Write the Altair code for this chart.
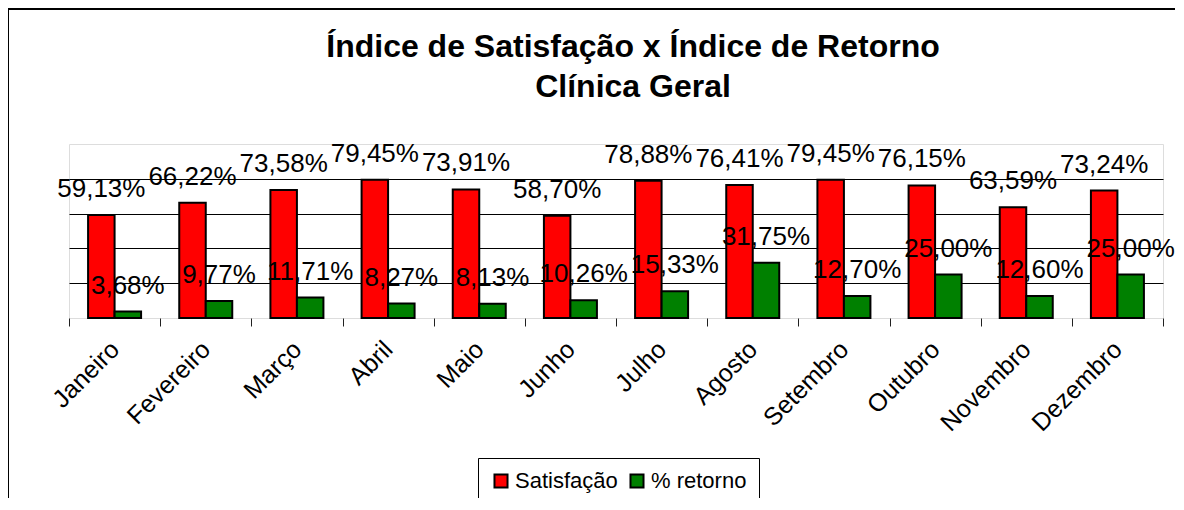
import altair as alt
import pandas as pd

months = ["Janeiro", "Fevereiro", "Março", "Abril", "Maio", "Junho",
          "Julho", "Agosto", "Setembro", "Outubro", "Novembro", "Dezembro"]
series = ["Satisfação", "% retorno"]
satisfacao = [59.13, 66.22, 73.58, 79.45, 73.91, 58.70, 78.88, 76.41, 79.45, 76.15, 63.59, 73.24]
retorno = [3.68, 9.77, 11.71, 8.27, 8.13, 10.26, 15.33, 31.75, 12.70, 25.00, 12.60, 25.00]
colors = ["#FF0000", "#008000"]
title_lines = ["Índice de Satisfação x Índice de Retorno", "Clínica Geral"]

rows = []
for m, s, r in zip(months, satisfacao, retorno):
    for name, v in ((series[0], s), (series[1], r)):
        rows.append({"mes": m, "serie": name, "valor": v,
                     "rotulo": f"{v:.2f}".replace(".", ",") + "%"})
df = pd.DataFrame(rows)

FONT = "Liberation Sans"
W, H = 1094, 174
PL, PT = 61, 136

x_enc = alt.X("mes:N", sort=months, title=None,
              scale=alt.Scale(paddingInner=0, paddingOuter=0),
              axis=alt.Axis(tickBand="extent", domain=False, ticks=True, tickSize=8,
                            tickColor="#202020", tickWidth=1,
                            labelAngle=-45, labelAlign="right", labelBaseline="middle",
                            labelPadding=19, labelFont=FONT, labelFontSize=25,
                            labelColor="#000000", grid=False))
xo_enc = alt.XOffset("serie:N", sort=series,
                     scale=alt.Scale(paddingInner=0, paddingOuter=0.72))
y_enc = alt.Y("valor:Q", title=None,
              scale=alt.Scale(domain=[0, 100], nice=False),
              axis=alt.Axis(values=[20, 40, 60, 80], labels=False, ticks=False,
                            domain=False, grid=True, gridColor="#000000",
                            gridWidth=1, gridOpacity=1))
color_enc = alt.Color("serie:N", sort=series,
                      scale=alt.Scale(domain=series, range=colors),
                      legend=alt.Legend(title=None, orient="none", direction="horizontal",
                                        legendX=409, legendY=314,
                                        symbolType="square", symbolSize=170,
                                        symbolStrokeColor="#000000", symbolStrokeWidth=2,
                                        symbolOpacity=1,
                                        labelFont=FONT, labelFontSize=22,
                                        labelColor="#000000", labelLimit=300,
                                        labelOffset=3,
                                        columnPadding=8, symbolOffset=0,
                                        strokeColor="#000000", fillColor="#FFFFFF",
                                        padding=12))

bars = alt.Chart(df).mark_bar(stroke="#000000", strokeWidth=2).encode(
    x=x_enc, xOffset=xo_enc, y=y_enc, color=color_enc)

labels = alt.Chart(df).mark_text(font=FONT, fontSize=26, baseline="alphabetic",
                                 dy=-18, color="#000000").encode(
    x=alt.X("mes:N", sort=months), xOffset=alt.XOffset("serie:N", sort=series),
    y="valor:Q", text="rotulo:N")

border = pd.DataFrame({"k": [0]})
border_v = alt.Chart(border).mark_rule(color="#000000", strokeWidth=2).encode(
    x=alt.value(-61), y=alt.value(-135), y2=alt.value(400))
border_h = alt.Chart(border).mark_rule(color="#000000", strokeWidth=2).encode(
    x=alt.value(-61), x2=alt.value(W + 40), y=alt.value(-135))

chart = alt.layer(bars, labels, border_v, border_h).properties(
    width=W, height=H,
    title=alt.Title(title_lines, font=FONT, fontSize=32, fontWeight="bold",
                    color="#000000", anchor="middle", dx=17, offset=-96,
                    baseline="top", lineHeight=40),
    autosize=alt.AutoSizeParams(type="none"),
    padding={"left": PL, "top": PT, "right": 12, "bottom": 180},
).configure_view(
    fill="#C0C0C0", stroke="#808080", strokeWidth=2
).configure(background="#FFFFFF")

chart.save("out.html", embed_options={"renderer": "svg", "actions": False})
